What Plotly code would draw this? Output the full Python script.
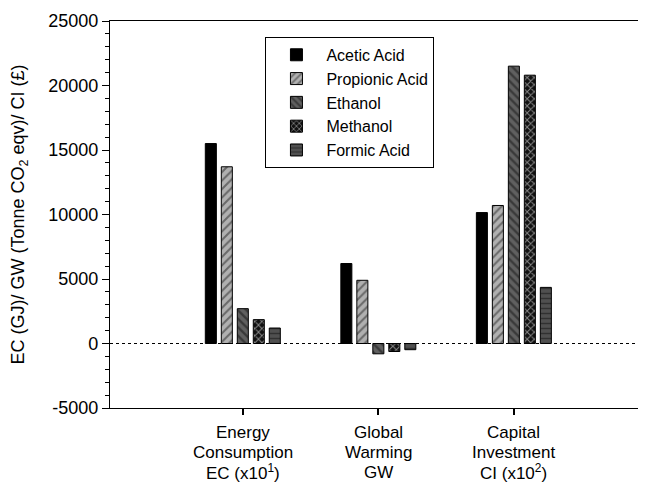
import plotly.graph_objects as go

cat_lines = [["Energy", "Consumption", "EC (x10<sup>1</sup>)"],
             ["Global", "Warming", "GW"],
             ["Capital", "Investment", "CI (x10<sup>2</sup>)"]]
categories = ["<br>".join(l) for l in cat_lines]
acetic = [15500, 6200, 10150]
propionic = [13700, 4900, 10700]
ethanol = [2700, -800, 21500]
methanol = [1850, -620, 20800]
formic = [1200, -480, 4350]
y_tickvals = [-5000, 0, 5000, 10000, 15000, 20000, 25000]
y_ticktext = ["-5000", "0", "5000", "10000", "15000", "20000", "25000"]

series = [
    ("Acetic Acid", acetic, dict(color="#000000")),
    ("Propionic Acid", propionic, dict(color="#b0b0b0", pattern=dict(shape="/", fgcolor="#222222", size=6, solidity=0.35))),
    ("Ethanol", ethanol, dict(color="#606060", pattern=dict(shape="\\", fgcolor="#111111", size=6, solidity=0.4))),
    ("Methanol", methanol, dict(color="#111111", pattern=dict(shape="x", fgcolor="#ffffff", size=5, solidity=0.35))),
    ("Formic Acid", formic, dict(color="#505050", pattern=dict(shape="-", fgcolor="#111111", size=5, solidity=0.3))),
]

font = "Liberation Sans, Arial, sans-serif"
fig = go.Figure()
for name, vals, mk in series:
    mk = dict(mk)
    mk["line"] = dict(color="#000000", width=1)
    fig.add_trace(go.Bar(name=name, x=categories, y=vals, marker=mk))

fig.add_shape(type="line", xref="paper", x0=0, x1=1, yref="y", y0=0, y1=0,
              line=dict(color="#000000", width=1.2, dash="dot"))

# category labels, one annotation per line for tight line spacing
for cat, lines in zip(categories, cat_lines):
    for k, txt in enumerate(lines):
        fig.add_annotation(x=cat, xref="x", y=0, yref="paper", text=txt, showarrow=False,
                           yanchor="middle", xanchor="center", yshift=-24 - 20 * k,
                           font=dict(size=17))

fig.update_layout(
    width=638, height=476,
    margin=dict(l=102, r=0, t=13, b=76),
    paper_bgcolor="white", plot_bgcolor="white",
    barmode="group", bargap=0.41, bargroupgap=0.31,
    font=dict(family=font, size=18, color="#000000"),
    showlegend=True,
    legend=dict(x=0.29, y=0.959, xanchor="left", yanchor="top",
                bordercolor="#000000", borderwidth=1, bgcolor="white",
                font=dict(size=16), tracegroupgap=0, itemwidth=50),
    xaxis=dict(range=[-0.98, 2.975], showline=True, linecolor="#000000", linewidth=1.2,
               mirror=True, ticks="outside", ticklen=6, tickcolor="#000000", tickwidth=1.5,
               showgrid=False, zeroline=False, showticklabels=False, automargin=False),
    yaxis=dict(range=[-5000, 25000], tickvals=y_tickvals, ticktext=y_ticktext,
               showline=True, linecolor="#000000", linewidth=1.2,
               ticks="outside", ticklen=7, tickcolor="#000000", tickwidth=1.2,
               minor=dict(dtick=1000, ticks="outside", ticklen=4, tickcolor="#000000", tickwidth=1),
               showgrid=False, zeroline=False, tickfont=dict(size=18), automargin=False,
               title=dict(text="EC (GJ)/ GW (Tonne CO<sub>2</sub> eqv)/ CI (£)", font=dict(size=18), standoff=18)),
)

fig.write_html("out.html")
